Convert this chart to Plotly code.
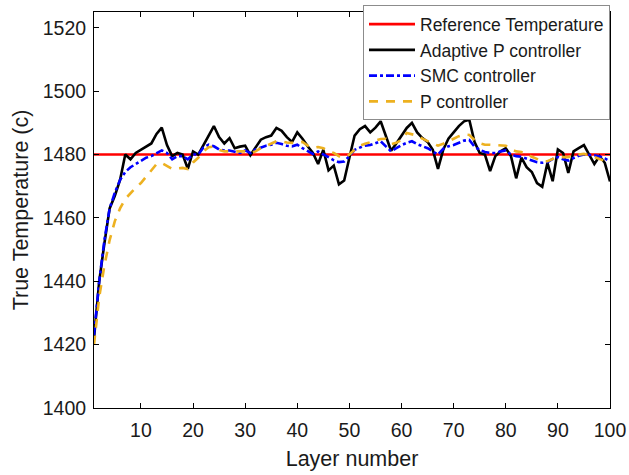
import plotly.graph_objects as go

layers = list(range(1, 101))

reference_temp = [1480] * 100

adaptive_p = [
    1422, 1440, 1452, 1463, 1467, 1472, 1480, 1478.5, 1480.5, 1481.5,
    1482.5, 1483.5, 1486.5, 1488.5, 1483, 1479.5, 1480.5, 1480, 1475.5, 1481,
    1480, 1483, 1486, 1489, 1485.5, 1483.5, 1485.2, 1482, 1482.5, 1482.8,
    1479.8, 1482.3, 1484.7, 1485.5, 1486, 1488.4, 1487.5, 1485.5, 1484, 1487,
    1485, 1482.6, 1480.5, 1477, 1481.5, 1475, 1476.5, 1470.6, 1471.8, 1479,
    1486, 1488, 1489, 1487, 1488.5, 1490.5, 1486, 1481.2, 1483.5, 1486,
    1488.4, 1490, 1487, 1485.2, 1484, 1481.5, 1475.5, 1481.5, 1485, 1487,
    1489, 1490.5, 1491, 1484, 1480.5, 1480, 1474.8, 1479.5, 1481, 1482,
    1479.5, 1472.5, 1479, 1476, 1474.5, 1471, 1469.8, 1477.4, 1471.6, 1481.6,
    1480.5, 1474.2, 1481, 1482, 1483, 1480, 1477, 1479.5, 1477.4, 1471.5,
]

smc = [
    1423, 1440, 1453, 1463, 1468, 1472, 1474.5, 1476, 1477, 1478,
    1479, 1479.5, 1480.5, 1481.3, 1480.5, 1478.5, 1479.5, 1479.5, 1478.5, 1480,
    1480, 1482.2, 1483.1, 1482.6, 1481.6, 1481.3, 1481.3, 1481, 1480.5, 1481.3,
    1480.5, 1481.6, 1482.3, 1482.8, 1483.1, 1483.7, 1483.3, 1482.8, 1482.6, 1483.1,
    1482, 1481, 1480.2, 1481, 1480, 1479, 1478.2, 1477.6, 1477.8, 1479.5,
    1481.5, 1482.2, 1482.8, 1483, 1483.6, 1484.2, 1482.6, 1481, 1482, 1483,
    1483.7, 1484.2, 1483.3, 1482.6, 1482, 1481, 1480, 1481.8, 1482.6, 1483,
    1483.6, 1484.4, 1484.6, 1482.5, 1481.5, 1480.8, 1480.5, 1480.5, 1481, 1481.3,
    1480, 1479.5, 1479.3, 1478.8, 1478.2, 1477.6, 1477.4, 1477.6, 1478.6, 1479.2,
    1478.5, 1478.1, 1478.9, 1479.6, 1480, 1480, 1479.8, 1479.4, 1478.8, 1477.9,
]

p_ctrl = [
    1420, 1435, 1445, 1453, 1459, 1463, 1466, 1467.8, 1469.5, 1471,
    1473, 1475, 1477, 1477.3, 1476.4, 1475.5, 1475.6, 1475.8, 1475.4, 1477.5,
    1479, 1481, 1482.3, 1482.5, 1481.5, 1481, 1481, 1481, 1481, 1481,
    1480.5, 1481, 1482, 1482.8, 1483.4, 1484.2, 1484.2, 1483.8, 1483.7, 1483.7,
    1484, 1482.8, 1482.1, 1482.4, 1482, 1481, 1480.5, 1479.5, 1479.2, 1480,
    1481.5, 1482.8, 1483.4, 1483.9, 1484.4, 1484.9, 1485, 1483.3, 1483.7, 1484.6,
    1486.8, 1486.4, 1486, 1485, 1484.2, 1483.5, 1482.8, 1483.4, 1484.3, 1485,
    1485.8, 1486.3, 1486.2, 1484.6, 1483.6, 1483.1, 1483.1, 1483, 1483.1, 1482.8,
    1481.6, 1481, 1480.8, 1480.3, 1479.3, 1478.5, 1477.9, 1477.9, 1478.6, 1479.3,
    1479.2, 1479.2, 1479.8, 1480.1, 1480.2, 1479.8, 1479.2, 1478.7, 1478, 1477.4,
]

x_ticks = [10, 20, 30, 40, 50, 60, 70, 80, 90, 100]
y_ticks = [1400, 1420, 1440, 1460, 1480, 1500, 1520]

FONT = "Liberation Sans, Arial, sans-serif"

fig = go.Figure()
fig.add_trace(go.Scatter(x=layers, y=reference_temp, mode="lines",
                         name="Reference Temperature",
                         line=dict(color="#ff0000", width=2.6)))
fig.add_trace(go.Scatter(x=layers, y=adaptive_p, mode="lines",
                         name="Adaptive P controller",
                         line=dict(color="#000000", width=2.6)))
fig.add_trace(go.Scatter(x=layers, y=smc, mode="lines",
                         name="SMC controller",
                         line=dict(color="#0000ff", width=2.6, dash="8px,3px,3px,3px")))
fig.add_trace(go.Scatter(x=layers, y=p_ctrl, mode="lines",
                         name="P controller",
                         line=dict(color="#edb120", width=2.6, dash="9px,8px")))

axis_common = dict(
    showline=True, linecolor="black", linewidth=1, mirror="ticks",
    ticks="inside", ticklen=5, tickwidth=1, tickcolor="black",
    showgrid=False, zeroline=False, automargin=False,
    tickfont=dict(family=FONT, size=19.5, color="#1a1a1a"),
)

fig.update_xaxes(range=[1, 100], tickvals=x_ticks, ticklabelstandoff=5,
                 title=dict(text="Layer number", standoff=10,
                            font=dict(family=FONT, size=21.5, color="#1a1a1a")),
                 **axis_common)
fig.update_yaxes(range=[1400, 1525], tickvals=y_ticks, ticklabelstandoff=3,
                 title=dict(text="True Temperature (c)", standoff=8,
                            font=dict(family=FONT, size=21.5, color="#1a1a1a")),
                 **axis_common)

fig.update_layout(
    width=629, height=475,
    margin=dict(l=94, r=19, t=12, b=67, autoexpand=False),
    plot_bgcolor="white", paper_bgcolor="white",
    showlegend=True,
    legend=dict(x=1, xanchor="right", y=1.017, yanchor="top",
                bgcolor="white", bordercolor="#8c8c8c", borderwidth=1,
                font=dict(family=FONT, size=17.5, color="#1a1a1a"),
                itemwidth=46, tracegroupgap=0),
)

fig.write_html("out.html")
